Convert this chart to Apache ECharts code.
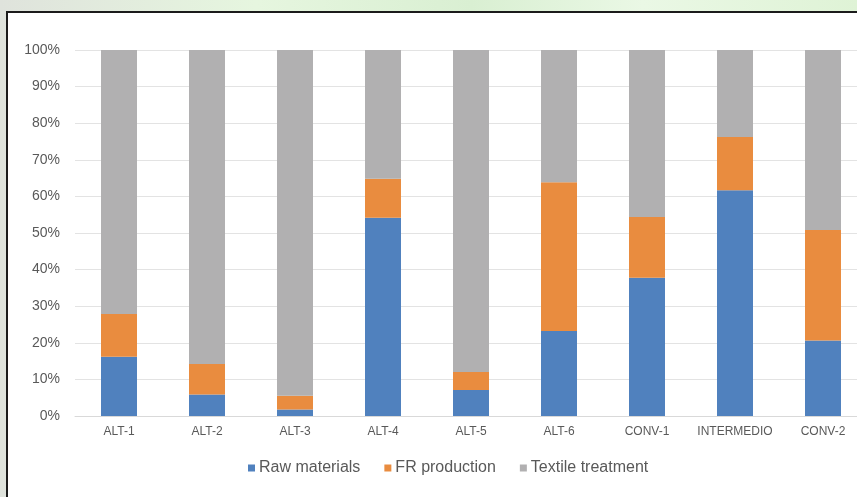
<!DOCTYPE html>
<html>
<head>
<meta charset="utf-8">
<script src="https://cdn.jsdelivr.net/npm/echarts@6/dist/echarts.min.js"></script>
<style>
  html, body { margin: 0; padding: 0; }
  body {
    width: 857px; height: 497px; overflow: hidden; position: relative;
    background: linear-gradient(90deg, #dfe3dc 0%, #e6f6df 30%, #d9efd2 55%, #eaf8e5 75%, #dff3d6 100%);
  }
  #frame {
    position: absolute; left: 6px; top: 11px; width: 870px; height: 500px;
    background: #ffffff; border-left: 2px solid #1b1b1b; border-top: 2px solid #1b1b1b;
  }
  /* the plot runs slightly past the right window edge */
  #chart { position: absolute; left: 0; top: 0; width: 880px; height: 497px; }
</style>
</head>
<body>
<div id="frame"></div>
<div id="chart"></div>
<script>
// Share of each life-cycle stage per scenario (percent of total)
const categories = ['ALT-1', 'ALT-2', 'ALT-3', 'ALT-4', 'ALT-5', 'ALT-6', 'CONV-1', 'INTERMEDIO', 'CONV-2'];
const rawMaterials = [16.2, 5.9, 1.8, 54.2, 7.1, 23.2, 37.8, 61.7, 20.6];
const frProduction = [11.7, 8.3, 3.7, 10.6, 4.9, 40.7, 16.6, 14.5, 30.2];
const textileTreatment = [72.1, 85.8, 94.5, 35.2, 88.0, 36.1, 45.6, 23.8, 49.2];
const yTicks = [0, 10, 20, 30, 40, 50, 60, 70, 80, 90, 100];

const seriesNames = ['Raw materials', 'FR production', 'Textile treatment'];
const seriesColors = ['#5081be', '#e98c3f', '#b1b0b1'];
const seriesData = [rawMaterials, frProduction, textileTreatment];

const chart = echarts.init(document.getElementById('chart'), null, { renderer: 'canvas' });

chart.setOption({
  backgroundColor: 'transparent',
  animation: false,
  textStyle: { fontFamily: 'Liberation Sans, Arial, sans-serif' },
  grid: { left: 75, top: 50, width: 792, bottom: 81, containLabel: false },
  legend: {
    left: 243,
    top: 455,
    itemWidth: 7,
    itemHeight: 7,
    itemGap: 24,
    icon: 'rect',
    textStyle: { color: '#595959', fontSize: 16, padding: [0, 0, 0, -1] },
    data: seriesNames
  },
  xAxis: {
    type: 'category',
    data: categories,
    boundaryGap: true,
    axisLine: { show: true, lineStyle: { color: '#d9d9d9', width: 1 } },
    axisTick: { show: false },
    axisLabel: { color: '#595959', fontSize: 12, margin: 10, interval: 0 },
    splitLine: { show: false }
  },
  yAxis: {
    type: 'value',
    min: yTicks[0],
    max: yTicks[yTicks.length - 1],
    interval: yTicks[1] - yTicks[0],
    axisLine: { show: false },
    axisTick: { show: false },
    axisLabel: { color: '#595959', fontSize: 14, margin: 15, formatter: '{value}%' },
    splitLine: { show: true, lineStyle: { color: '#e3e3e3', width: 1 } }
  },
  series: seriesNames.map((name, i) => ({
    name: name,
    type: 'bar',
    stack: 'total',
    barWidth: 36,
    itemStyle: { color: seriesColors[i] },
    data: seriesData[i]
  }))
});
</script>
</body>
</html>
